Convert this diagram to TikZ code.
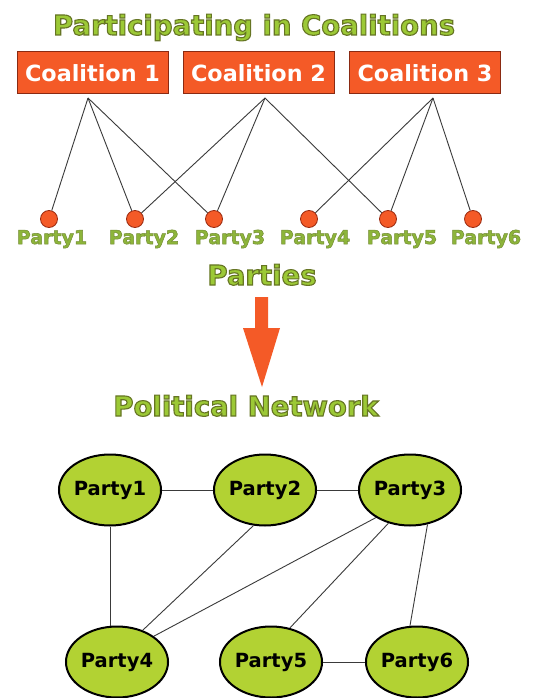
\documentclass[tikz,border=0pt]{standalone}
\usepackage{fontspec}
\setmainfont{DejaVu Sans}
\usetikzlibrary{shapes.geometric}
\definecolor{titlegreen}{HTML}{9CC936}
\definecolor{lblgreen}{HTML}{8DB53A}
\definecolor{coalfill}{HTML}{F45A27}
\definecolor{coaledge}{HTML}{8A2A12}
\definecolor{dotedge}{HTML}{9A2A10}
\definecolor{ellfill}{HTML}{B2D233}
\definecolor{linegray}{HTML}{3A3A3A}
\newcommand{\outlinetext}[1]{\special{pdf:literal direct 0.40 0.46 0.14 RG 1.1 w 2 Tr}#1\special{pdf:literal direct 0 Tr}}
\newcommand{\thinoutline}[1]{\special{pdf:literal direct 0.45 0.55 0.20 RG 0.5 w 2 Tr}#1\special{pdf:literal direct 0 Tr}}
\begin{document}
\begin{tikzpicture}[x=1pt,y=-1pt,
  heading/.style={text=titlegreen, inner sep=0, anchor=base, font=\fontsize{27.5}{30}\selectfont\bfseries},
  coal/.style={draw=coaledge, fill=coalfill, line width=1pt, minimum width=151pt, minimum height=42pt, inner sep=0, text=white, font=\fontsize{22.3}{24}\selectfont\bfseries},
  dot/.style={circle, draw=dotedge, fill=coalfill, minimum size=17pt, inner sep=0, line width=0.8pt},
  plabel/.style={text=lblgreen, inner sep=0, anchor=base, font=\fontsize{19}{21}\selectfont\bfseries},
  pnode/.style={ellipse, draw=black, line width=2pt, fill=ellfill, minimum width=94pt, minimum height=71pt, inner sep=0, font=\fontsize{19.5}{22}\selectfont\bfseries},
  toplink/.style={draw=linegray, line width=0.9pt},
  link/.style={draw=linegray, line width=0.9pt},
  bigarrow/.style={fill=coalfill, draw=none}]
\useasboundingbox (0,0) rectangle (535,698);
\fill[white] (0,0) rectangle (535,698);

% title
\node[heading] (title) at (254,35) {\outlinetext{Participating in Coalitions}};

% coalitions
\node[coal] (c1) at (92.5,73) {Coalition 1};
\node[coal] (c2) at (258.5,73) {Coalition 2};
\node[coal] (c3) at (425,73) {Coalition 3};
\coordinate (c1s) at (88,98);
\coordinate (c2s) at (265,98);
\coordinate (c3s) at (433,98);

% party dots
\node[dot] (d1) at (49,219) {};
\node[dot] (d2) at (135,219) {};
\node[dot] (d3) at (214,219) {};
\node[dot] (d4) at (309,219) {};
\node[dot] (d5) at (388,219) {};
\node[dot] (d6) at (473,219) {};

\draw[toplink] (c1s) -- (d1);
\draw[toplink] (c1s) -- (d2);
\draw[toplink] (c1s) -- (d3);
\draw[toplink] (c2s) -- (d2);
\draw[toplink] (c2s) -- (d3);
\draw[toplink] (c2s) -- (d5);
\draw[toplink] (c3s) -- (d4);
\draw[toplink] (c3s) -- (d5);
\draw[toplink] (c3s) -- (d6);

% party labels
\node[plabel] (l1) at (52,244) {\thinoutline{Party1}};
\node[plabel] (l2) at (144,244) {\thinoutline{Party2}};
\node[plabel] (l3) at (230,244) {\thinoutline{Party3}};
\node[plabel] (l4) at (315,244) {\thinoutline{Party4}};
\node[plabel] (l5) at (402,244) {\thinoutline{Party5}};
\node[plabel] (l6) at (486,244) {\thinoutline{Party6}};

\node[heading] (parties) at (262,285) {\outlinetext{Parties}};

% big arrow
\fill[bigarrow] (255,297) -- (268,297) -- (268,328) -- (280,328) -- (262,387) -- (243,328) -- (255,328) -- cycle;

\node[heading] (polnet) at (246,416) {\outlinetext{Political Network}};

% network
\node[pnode] (p1) at (110,490) {Party1};
\node[pnode] (p2) at (265,490) {Party2};
\node[pnode] (p3) at (410,490) {Party3};
\node[pnode] (p4) at (117,662) {Party4};
\node[pnode] (p5) at (271,662) {Party5};
\node[pnode] (p6) at (417,662) {Party6};

\draw[link] (p1) -- (p2);
\draw[link] (p2) -- (p3);
\draw[link] (p1.south) -- (p4.north -| p1.south);
\draw[link] (p2.-108) -- (p4.51);
\draw[link] (p3.-141) -- (p4.35);
\draw[link] (p3.-123) -- (p5.61);
\draw[link] (p3.-63) -- (p6.101);
\draw[link] (p5) -- (p6);
\end{tikzpicture}
\end{document}
